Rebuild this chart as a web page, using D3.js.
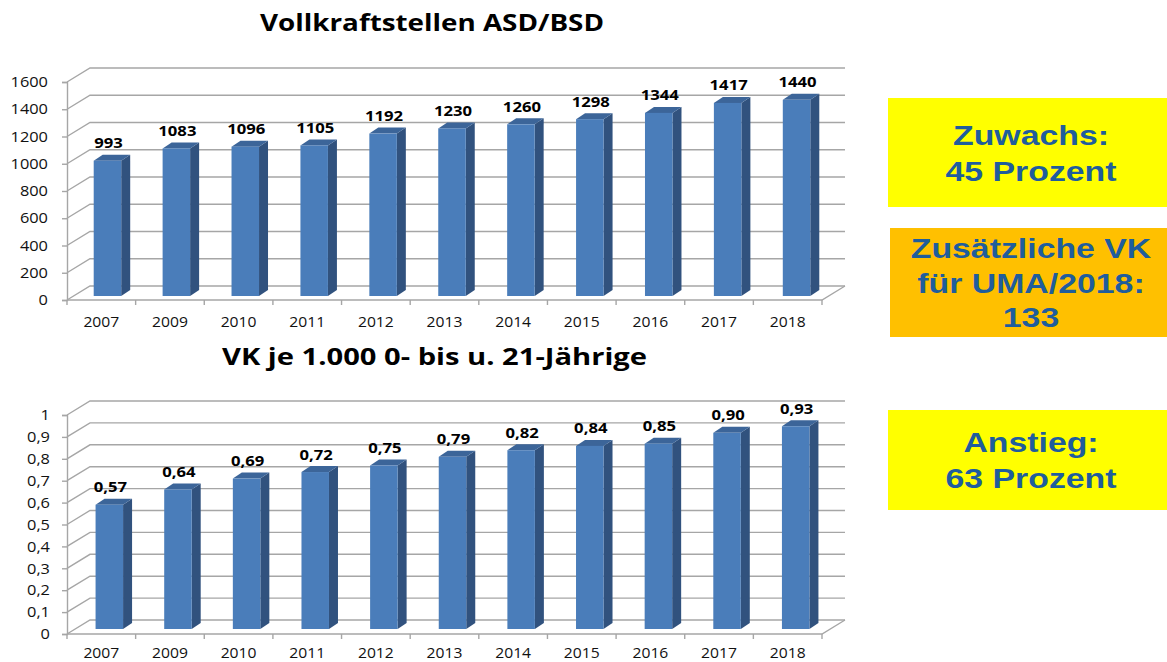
<!DOCTYPE html>
<html><head><meta charset="utf-8">
<script src="https://cdn.jsdelivr.net/npm/d3@7"></script>
<style>body{margin:0;background:#fff;} svg{display:block}</style>
</head><body>
<svg id="c" width="1167" height="662"></svg>
<script>
// ---- data ----
const years = ["2007","2009","2010","2011","2012","2013","2014","2015","2016","2017","2018"];
const vkValues = [993,1083,1096,1105,1192,1230,1260,1298,1344,1417,1440];
const ratioValues = [0.57,0.64,0.69,0.72,0.75,0.79,0.82,0.84,0.85,0.90,0.93];
const vkTicks = [0,200,400,600,800,1000,1200,1400,1600];
const ratioTicks = [0,0.1,0.2,0.3,0.4,0.5,0.6,0.7,0.8,0.9,1];
const title1 = "Vollkraftstellen ASD/BSD";
const title2 = "VK je 1.000 0- bis u. 21-Jährige";
const box1Lines = ["Zuwachs:","45 Prozent"];
const box2Lines = ["Zusätzliche VK","für UMA/2018:","133"];
const box3Lines = ["Anstieg:","63 Prozent"];

const svg = d3.select("#c");
const GRID = "#a6a6a6";
const FRONT = "#4a7dba", SIDE = "#31527e", TOP = "#3c6599";
const deFmt = d3.formatLocale({decimal:",", thousands:".", grouping:[3], currency:["","€"]});

function stretchText(g, x, y, txt, opts){
  const t = g.append("g").attr("transform",`translate(${x},${y})`)
    .append("text").text(txt)
    .attr("transform",`scale(${opts.sx||1},1)`)
    .attr("text-anchor",opts.anchor||"middle")
    .attr("font-family",opts.family||"'Open Sans', sans-serif")
    .attr("font-size",opts.size)
    .attr("font-weight",opts.weight||"normal")
    .attr("fill",opts.fill||"#000");
  if(opts.dy) t.attr("dy",opts.dy);
  return t;
}

function panel(cfg){
  const g = svg.append("g");
  const [dx,dy] = cfg.depth;
  const yF = d3.scaleLinear().domain(cfg.domain).range([cfg.y0,cfg.y1]);
  const yB = d3.scaleLinear().domain(cfg.domain).range([cfg.barY0,cfg.barY1]);
  const xF = d3.scaleBand().domain(years).range([cfg.x0,cfg.x1]);
  const xB = d3.scaleBand().domain(years).range(cfg.barRange);

  // walls / gridlines
  cfg.ticks.forEach(t=>{
    const y = yF(t);
    g.append("polyline")
      .attr("points",`${cfg.x0},${y} ${cfg.x0+dx},${y+dy} ${cfg.x1+dx},${y+dy}`)
      .attr("fill","none").attr("stroke",GRID).attr("stroke-width",1.4);
  });
  // floor
  g.append("polyline")
    .attr("points",`${cfg.x0},${cfg.y0} ${cfg.x1},${cfg.y0} ${cfg.x1+dx},${cfg.y0+dy}`)
    .attr("fill","none").attr("stroke",GRID).attr("stroke-width",1.4);

  // y axis
  const ay = d3.axisLeft(yF).tickValues(cfg.ticks).tickSize(5).tickFormat("");
  const ga = g.append("g").attr("transform",`translate(${cfg.x0},0)`).call(ay);
  ga.select(".domain").attr("stroke",GRID).attr("stroke-width",1.4);
  ga.selectAll(".tick line").attr("stroke",GRID).attr("stroke-width",1.4);
  cfg.ticks.forEach(t=>{
    stretchText(g, cfg.tickLabelX, yF(t), cfg.tickFmt(t), {size:14.5, sx:1.13, anchor:"end", dy:"0.36em", fill:"#111"});
  });

  // x axis ticks
  const ax = d3.axisBottom(xF).tickSize(0).tickFormat("");
  const gx = g.append("g").attr("transform",`translate(0,${cfg.y0})`).call(ax);
  gx.select(".domain").remove();
  years.concat(["_end"]).forEach((yr,i)=>{
    const x = i<years.length ? xF(yr) : cfg.x1;
    g.append("line").attr("x1",x).attr("x2",x).attr("y1",cfg.y0).attr("y2",cfg.y0+5)
      .attr("stroke",GRID).attr("stroke-width",1.4);
  });
  years.forEach(yr=>{
    stretchText(g, xF(yr)+xF.bandwidth()/2, cfg.yearBaseline, yr, {size:14, sx:1.12, fill:"#111"});
  });

  // bars
  const bw = 27.5, ddx = 9, ddy = -6;
  cfg.values.forEach((v,i)=>{
    const cx = xB(years[i]) + xB.bandwidth()/2;
    const x = cx - bw/2, yt = yB(v), yb = yB(0);
    g.append("polygon").attr("fill",SIDE)
      .attr("points",`${x+bw},${yt} ${x+bw+ddx},${yt+ddy} ${x+bw+ddx},${yb+ddy} ${x+bw},${yb}`);
    g.append("polygon").attr("fill",TOP)
      .attr("points",`${x},${yt} ${x+ddx},${yt+ddy} ${x+bw+ddx},${yt+ddy} ${x+bw},${yt}`);
    g.append("rect").attr("x",x).attr("y",yt).attr("width",bw).attr("height",yb-yt).attr("fill",FRONT);
    stretchText(g, cx+1, yt-12.5, cfg.labelFmt(v), {size:14.5, sx:1.15, weight:"bold", fill:"#000"});
  });

  // title
  g.append("text").text(cfg.title)
    .attr("x",cfg.titleX).attr("y",cfg.titleY)
    .attr("text-anchor","middle")
    .attr("font-family","'Open Sans', sans-serif").attr("font-weight","bold").attr("font-size",24)
    .attr("textLength",cfg.titleLen).attr("lengthAdjust","spacingAndGlyphs");
}

panel({
  values: vkValues, ticks: vkTicks, domain:[0,1600],
  x0:67, x1:822, y0:300, y1:82, barY0:296, barY1:78, barRange:[73,831],
  depth:[23,-14], tickLabelX:48, yearBaseline:327,
  tickFmt: d=>String(d), labelFmt: d=>String(d),
  title: title1, titleX:432, titleY:31, titleLen:344
});
panel({
  values: ratioValues, ticks: ratioTicks, domain:[0,1],
  x0:67, x1:822, y0:634, y1:415, barY0:629, barY1:411, barRange:[75,830],
  depth:[23,-14], tickLabelX:50, yearBaseline:658,
  tickFmt: d=> d===0||d===1 ? String(d) : deFmt.format(".1f")(d),
  labelFmt: d=> deFmt.format(".2f")(d),
  title: title2, titleX:434.5, titleY:365, titleLen:425
});

// info boxes
function box(x,y,w,h,fill,lines,baselines){
  svg.append("rect").attr("x",x).attr("y",y).attr("width",w).attr("height",h).attr("fill",fill);
  lines.forEach((l,i)=>{
    stretchText(svg, 1031, baselines[i], l, {size:27.5, sx:1.23, weight:"bold",
      family:"'Liberation Sans', Arial, sans-serif", fill:"#1f5d9c"});
  });
}
box(888,98,279,109,"#ffff00",box1Lines,[145,181]);
box(890,228,277,109,"#ffc000",box2Lines,[258,293,327]);
box(888,410,279,100,"#ffff00",box3Lines,[452,488]);
</script>
</body></html>
